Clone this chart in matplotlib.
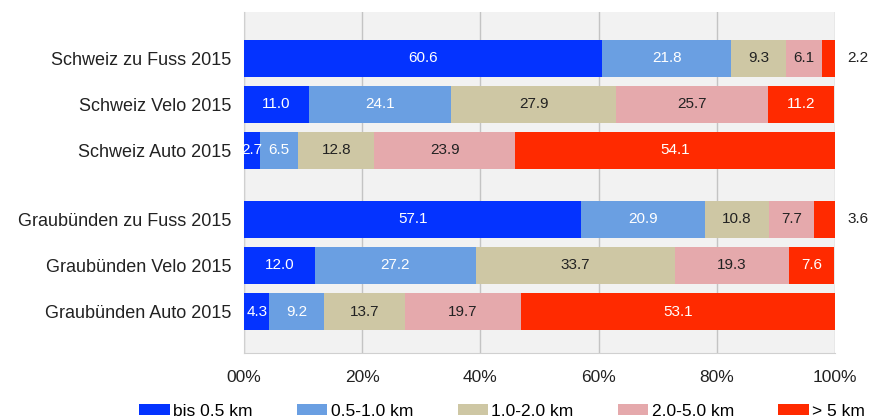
import matplotlib
matplotlib.use("Agg")
import matplotlib.pyplot as plt
import numpy as np

plt.rcParams['font.family'] = ['Liberation Sans', 'DejaVu Sans']

categories = ["Schweiz zu Fuss 2015", "Schweiz Velo 2015", "Schweiz Auto 2015",
              "Graubünden zu Fuss 2015", "Graubünden Velo 2015", "Graubünden Auto 2015"]
series_names = ["bis 0.5 km", "0.5-1.0 km", "1.0-2.0 km", "2.0-5.0 km", "> 5 km"]
bis_05 = [60.6, 11.0, 2.7, 57.1, 12.0, 4.3]
s05_10 = [21.8, 24.1, 6.5, 20.9, 27.2, 9.2]
s10_20 = [9.3, 27.9, 12.8, 10.8, 33.7, 13.7]
s20_50 = [6.1, 25.7, 23.9, 7.7, 19.3, 19.7]
gt_5 = [2.2, 11.2, 54.1, 3.6, 7.6, 53.1]
xtick_values = [0, 20, 40, 60, 80, 100]
xtick_labels = ["00%", "20%", "40%", "60%", "80%", "100%"]

series = [bis_05, s05_10, s10_20, s20_50, gt_5]
colors = ["#0433ff", "#6a9fe2", "#cec7a4", "#e5a9ac", "#ff2a00"]
text_colors = ["white", "white", "#222222", "#222222", "white"]

ypos = np.array([0, 1, 2, 3.5, 4.5, 5.5])

fig = plt.figure(figsize=(8.69, 4.2), dpi=100)
ax = fig.add_axes([244/869, 1-353/420, (835-244)/869, (353-12)/420])
ax.set_facecolor("#f2f2f2")

left = np.zeros(len(categories))
for vals, col, tcol, name in zip(series, colors, text_colors, series_names):
    vals = np.array(vals)
    ax.barh(ypos, vals, left=left, height=0.8, color=col, label=name, zorder=3)
    for y, l, v in zip(ypos, left, vals):
        if v < 4 and name == "> 5 km":
            ax.text(103.9, y, f"{v:.1f}", ha="center", va="center",
                    fontsize=11, color="#222222", clip_on=False)
        else:
            ax.text(l + v/2, y, f"{v:.1f}", ha="center", va="center",
                    fontsize=11, color=tcol, zorder=4)
    left = left + vals

ax.set_xlim(0, 100)
ax.set_ylim(6.4, -1)
ax.set_yticks(ypos)
ax.set_yticklabels(categories, fontsize=13, color="#222222")
ax.set_xticks(xtick_values)
ax.set_xticklabels(xtick_labels, fontsize=12.5, color="#222222")
ax.tick_params(axis="both", length=0)
ax.tick_params(axis="y", pad=9)
ax.tick_params(axis="x", pad=12)
ax.xaxis.grid(True, color="#c4c4c4", linewidth=1, zorder=0)
ax.set_axisbelow(True)
for s in ["top", "right"]:
    ax.spines[s].set_visible(False)
for s in ["left", "bottom"]:
    ax.spines[s].set_color("#d0d0d0")

handles, labels = ax.get_legend_handles_labels()
fig.legend(handles, labels, loc="center", bbox_to_anchor=(0.578, 0.020), ncol=5,
           frameon=False, fontsize=12.5, handlelength=1.75, handleheight=0.6,
           handletextpad=0.2, columnspacing=2.55, borderaxespad=0, borderpad=0)

fig.savefig("out.png", dpi=100, facecolor="white")
